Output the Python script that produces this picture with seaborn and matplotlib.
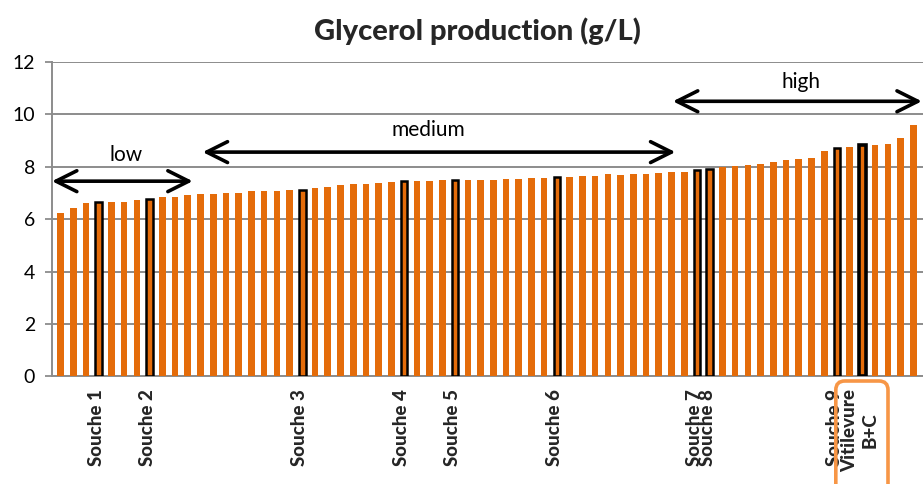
import numpy as np
import pandas as pd
import matplotlib
matplotlib.use("Agg")
import matplotlib.pyplot as plt
import seaborn as sns
from matplotlib.patches import FancyBboxPatch
from matplotlib.transforms import IdentityTransform

# ---------------- data ----------------
glycerol = [6.22, 6.44, 6.63, 6.66, 6.67, 6.67, 6.74, 6.76, 6.83, 6.85,
            6.92, 6.95, 6.97, 6.98, 7.00, 7.06, 7.07, 7.07, 7.11, 7.11,
            7.18, 7.22, 7.31, 7.34, 7.35, 7.38, 7.40, 7.45, 7.44, 7.45,
            7.48, 7.50, 7.49, 7.49, 7.49, 7.52, 7.55, 7.57, 7.58, 7.62,
            7.61, 7.66, 7.66, 7.71, 7.70, 7.71, 7.72, 7.75, 7.79, 7.81,
            7.86, 7.91, 7.98, 8.03, 8.06, 8.12, 8.18, 8.24, 8.28, 8.32,
            8.59, 8.71, 8.75, 8.85, 8.84, 8.87, 9.11, 9.59, 9.75]
strain_ids = [f"strain_{i + 1}" for i in range(len(glycerol))]

highlight_idx = [3, 7, 19, 27, 31, 39, 50, 51, 61, 63]
highlight_names = ["Souche 1", "Souche 2", "Souche 3", "Souche 4", "Souche 5",
                   "Souche 6", "Souche 7", "Souche 8", "Souche 9",
                   "Vitilevure\nB+C"]
reference_idx = 63

# group annotations: (label, x_start, x_end, arrow y, text x, text y)
groups = ["low", "medium", "high"]
group_x0 = [-0.48, 11.36, 48.3]
group_x1 = [10.58, 48.5, 67.86]
group_arrow_y = [7.45, 8.56, 10.5]
group_text_x = [5.34, 29.06, 58.4]
group_text_y = [8.45, 9.40, 11.23]

title = "Glycerol production (g/L)"
yticks = [0, 2, 4, 6, 8, 10, 12]

# ---------------- style ----------------
ORANGE = "#E46C0A"
GRID = "#8C8C8C"
BOX = "#F79646"

sns.set_style("white")
plt.rcParams["font.family"] = ["Lato", "DejaVu Sans"]

W, H = 923, 484
fig = plt.figure(figsize=(W / 100, H / 100), dpi=100)
ax_left, ax_right = 51.7, 930.0
ax_top, ax_bottom = 62.0, 376.3
ax = fig.add_axes([ax_left / W, (H - ax_bottom) / H,
                   (ax_right - ax_left) / W, (ax_bottom - ax_top) / H])

df = pd.DataFrame({"strain": strain_ids, "glycerol": glycerol})
sns.barplot(data=df, x="strain", y="glycerol", color=ORANGE, saturation=1,
            width=0.52, ax=ax, errorbar=None)

for i, p in enumerate(ax.patches):
    p.set_x(p.get_x() + 0.19)
    p.set_edgecolor("none")
    if i in highlight_idx:
        p.set_edgecolor("black")
        p.set_linewidth(2.6 if i == reference_idx else 1.8)
    p.set_zorder(3)

ax.set_xlim(-0.5, len(glycerol) - 0.5)
ax.set_ylim(0, 12)
ax.set_yticks(yticks)
ax.set_yticklabels([str(v) for v in yticks], fontsize=14, color="black")
ax.yaxis.grid(True, color=GRID, linewidth=1.4, zorder=0)
ax.set_axisbelow(True)

labels = [""] * len(glycerol)
for i, n in zip(highlight_idx, highlight_names):
    labels[i] = n
ax.set_xticks(range(len(glycerol)))
ax.set_xticklabels(labels, rotation=90, fontsize=13.5,
                   va="top", ha="center", multialignment="center")
for t in ax.get_xticklabels():
    t.set_fontweight(900)
ax.set_xticks(np.arange(-0.5, len(glycerol), 1), minor=True)
ax.tick_params(axis="x", which="major", length=0, pad=9)
ax.tick_params(axis="x", which="minor", length=5, width=1.3, color=GRID)
ax.tick_params(axis="y", which="major", length=5, width=1.3, color=GRID,
               left=True, pad=7)
ax.set_xlabel("")
ax.set_ylabel("")

for s in ["top", "right"]:
    ax.spines[s].set_visible(False)
for s in ["left", "bottom"]:
    ax.spines[s].set_color(GRID)
    ax.spines[s].set_linewidth(1.4)

# group arrows + labels
for g, x0, x1, ay, tx, ty in zip(groups, group_x0, group_x1, group_arrow_y,
                                 group_text_x, group_text_y):
    ax.annotate("", xy=(x1, ay), xytext=(x0, ay),
                arrowprops=dict(arrowstyle="<->,head_length=1.0,head_width=0.5",
                                lw=2.6, color="black", shrinkA=0, shrinkB=0,
                                mutation_scale=15),
                annotation_clip=False, zorder=5)
    ax.text(tx, ty, g, ha="center", va="center", fontsize=15, color="black")

fig.text(477 / W, (H - 31) / H, title, ha="center", va="center",
         fontsize=21, fontweight=900)

# rounded orange box around the reference strain label
fig.canvas.draw()
x0d = ax.transData.transform((61.1, 0))[0]
x1d = ax.transData.transform((65.2, 0))[0]
yb_top = H - 381
box = FancyBboxPatch((x0d, -20), x1d - x0d, yb_top + 20,
                     boxstyle="round,pad=0,rounding_size=9",
                     transform=IdentityTransform(), facecolor="none",
                     edgecolor=BOX, linewidth=2.6, zorder=10)
fig.add_artist(box)

fig.savefig("out.png", dpi=100)
